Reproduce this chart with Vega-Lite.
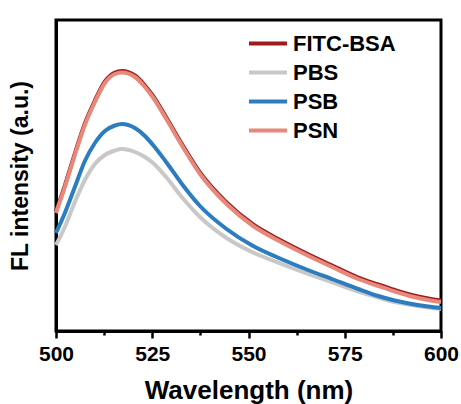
{
  "$schema": "https://vega.github.io/schema/vega-lite/v6.json",
  "width": 385,
  "height": 311,
  "autosize": {"type": "none"},
  "padding": {"left": 56, "top": 20, "right": 20, "bottom": 73},
  "background": "white",
  "config": {
    "font": "Liberation Sans",
    "view": {"stroke": "black", "strokeWidth": 3}
  },
  "data": {
    "values": [
      {"s": "FITC-BSA", "w": 500, "v": 119.5},
      {"s": "FITC-BSA", "w": 502.3, "v": 145.5},
      {"s": "FITC-BSA", "w": 504.9, "v": 177.5},
      {"s": "FITC-BSA", "w": 507.5, "v": 207.5},
      {"s": "FITC-BSA", "w": 510.1, "v": 230.5},
      {"s": "FITC-BSA", "w": 512.7, "v": 249.5},
      {"s": "FITC-BSA", "w": 515.3, "v": 258.5},
      {"s": "FITC-BSA", "w": 517.1, "v": 260},
      {"s": "FITC-BSA", "w": 520.5, "v": 255.5},
      {"s": "FITC-BSA", "w": 523.1, "v": 245.5},
      {"s": "FITC-BSA", "w": 525.2, "v": 235},
      {"s": "FITC-BSA", "w": 528.8, "v": 212.5},
      {"s": "FITC-BSA", "w": 533.1, "v": 184.5},
      {"s": "FITC-BSA", "w": 537.4, "v": 158.5},
      {"s": "FITC-BSA", "w": 544.3, "v": 128.5},
      {"s": "FITC-BSA", "w": 551.2, "v": 106.5},
      {"s": "FITC-BSA", "w": 558.2, "v": 91},
      {"s": "FITC-BSA", "w": 565.1, "v": 77.5},
      {"s": "FITC-BSA", "w": 572.0, "v": 65},
      {"s": "FITC-BSA", "w": 578.5, "v": 53.5},
      {"s": "FITC-BSA", "w": 583.7, "v": 46.5},
      {"s": "FITC-BSA", "w": 588.0, "v": 41},
      {"s": "FITC-BSA", "w": 592.4, "v": 36},
      {"s": "FITC-BSA", "w": 596.7, "v": 32.5},
      {"s": "FITC-BSA", "w": 600, "v": 30.5},

      {"s": "PBS", "w": 500, "v": 86},
      {"s": "PBS", "w": 502.3, "v": 104},
      {"s": "PBS", "w": 504.9, "v": 129},
      {"s": "PBS", "w": 507.5, "v": 151},
      {"s": "PBS", "w": 510.1, "v": 167},
      {"s": "PBS", "w": 512.7, "v": 176},
      {"s": "PBS", "w": 515.3, "v": 180.5},
      {"s": "PBS", "w": 517.1, "v": 182},
      {"s": "PBS", "w": 520.5, "v": 179},
      {"s": "PBS", "w": 523.1, "v": 174},
      {"s": "PBS", "w": 525.2, "v": 168},
      {"s": "PBS", "w": 528.8, "v": 153},
      {"s": "PBS", "w": 533.1, "v": 132},
      {"s": "PBS", "w": 537.4, "v": 114},
      {"s": "PBS", "w": 544.3, "v": 93},
      {"s": "PBS", "w": 551.2, "v": 78.5},
      {"s": "PBS", "w": 558.2, "v": 67.7},
      {"s": "PBS", "w": 565.1, "v": 57.7},
      {"s": "PBS", "w": 572.0, "v": 48.3},
      {"s": "PBS", "w": 578.5, "v": 39.5},
      {"s": "PBS", "w": 583.7, "v": 33.5},
      {"s": "PBS", "w": 588.0, "v": 29},
      {"s": "PBS", "w": 592.4, "v": 26},
      {"s": "PBS", "w": 596.7, "v": 23.5},
      {"s": "PBS", "w": 600, "v": 22},

      {"s": "PSB", "w": 500, "v": 98},
      {"s": "PSB", "w": 502.3, "v": 118},
      {"s": "PSB", "w": 504.9, "v": 144},
      {"s": "PSB", "w": 507.5, "v": 170},
      {"s": "PSB", "w": 510.1, "v": 188},
      {"s": "PSB", "w": 512.7, "v": 200},
      {"s": "PSB", "w": 515.3, "v": 205.5},
      {"s": "PSB", "w": 517.1, "v": 207},
      {"s": "PSB", "w": 520.5, "v": 203},
      {"s": "PSB", "w": 523.1, "v": 195},
      {"s": "PSB", "w": 525.2, "v": 186},
      {"s": "PSB", "w": 528.8, "v": 168},
      {"s": "PSB", "w": 533.1, "v": 145},
      {"s": "PSB", "w": 537.4, "v": 125},
      {"s": "PSB", "w": 544.3, "v": 102},
      {"s": "PSB", "w": 551.2, "v": 85},
      {"s": "PSB", "w": 558.2, "v": 72.5},
      {"s": "PSB", "w": 565.1, "v": 61.5},
      {"s": "PSB", "w": 572.0, "v": 51.5},
      {"s": "PSB", "w": 578.5, "v": 42},
      {"s": "PSB", "w": 583.7, "v": 35},
      {"s": "PSB", "w": 588.0, "v": 30.5},
      {"s": "PSB", "w": 592.4, "v": 27},
      {"s": "PSB", "w": 596.7, "v": 24.5},
      {"s": "PSB", "w": 600, "v": 23},

      {"s": "PSN", "w": 500, "v": 118},
      {"s": "PSN", "w": 502.3, "v": 144},
      {"s": "PSN", "w": 504.9, "v": 176},
      {"s": "PSN", "w": 507.5, "v": 206},
      {"s": "PSN", "w": 510.1, "v": 229},
      {"s": "PSN", "w": 512.7, "v": 248},
      {"s": "PSN", "w": 515.3, "v": 257},
      {"s": "PSN", "w": 517.1, "v": 258.5},
      {"s": "PSN", "w": 520.5, "v": 254},
      {"s": "PSN", "w": 523.1, "v": 244},
      {"s": "PSN", "w": 525.2, "v": 233.5},
      {"s": "PSN", "w": 528.8, "v": 211},
      {"s": "PSN", "w": 533.1, "v": 183},
      {"s": "PSN", "w": 537.4, "v": 157},
      {"s": "PSN", "w": 544.3, "v": 127},
      {"s": "PSN", "w": 551.2, "v": 105},
      {"s": "PSN", "w": 558.2, "v": 89.5},
      {"s": "PSN", "w": 565.1, "v": 76},
      {"s": "PSN", "w": 572.0, "v": 63.5},
      {"s": "PSN", "w": 578.5, "v": 52},
      {"s": "PSN", "w": 583.7, "v": 45},
      {"s": "PSN", "w": 588.0, "v": 39.5},
      {"s": "PSN", "w": 592.4, "v": 34.5},
      {"s": "PSN", "w": 596.7, "v": 31},
      {"s": "PSN", "w": 600, "v": 29}
    ]
  },
  "mark": {"type": "line", "strokeWidth": 4, "interpolate": "monotone"},
  "encoding": {
    "x": {
      "field": "w",
      "type": "quantitative",
      "scale": {"domain": [500, 600], "nice": false, "zero": false},
      "axis": {
        "title": "Wavelength (nm)",
        "titleFontSize": 26,
        "titleFontWeight": "bold",
        "titleColor": "black",
        "titlePadding": 13,
        "values": [500, 512.5, 525, 537.5, 550, 562.5, 575, 587.5, 600],
        "labelExpr": "datum.value % 25 === 0 ? datum.label : ''",
        "labelFontSize": 21,
        "labelFontWeight": "bold",
        "labelColor": "black",
        "labelPadding": 5,
        "labelFlush": false,
        "labelOverlap": false,
        "tickColor": "black",
        "tickWidth": 2.5,
        "tickSize": {"condition": {"test": "datum.value % 25 === 0", "value": 7}, "value": 4},
        "domainColor": "black",
        "domainWidth": 3,
        "grid": false
      }
    },
    "y": {
      "field": "v",
      "type": "quantitative",
      "scale": {"domain": [0, 311], "nice": false, "zero": false},
      "axis": {
        "title": "FL intensity (a.u.)",
        "titleFontSize": 23,
        "titleFontWeight": "bold",
        "titleColor": "black",
        "titlePadding": 24,
        "labels": false,
        "ticks": false,
        "grid": false,
        "domainColor": "black",
        "domainWidth": 3
      }
    },
    "color": {
      "field": "s",
      "type": "nominal",
      "scale": {
        "domain": ["FITC-BSA", "PBS", "PSB", "PSN"],
        "range": ["#9E1B1E", "#C8C8C8", "#2B7DBF", "#E6897B"]
      },
      "legend": {
        "title": null,
        "orient": "none",
        "legendX": 191,
        "legendY": 12,
        "padding": 0,
        "symbolType": "M-1,0H3",
        "symbolSize": 361,
        "symbolStrokeWidth": 4,
        "symbolFillColor": "transparent",
        "labelFontSize": 22,
        "labelFontWeight": "bold",
        "labelColor": "black",
        "labelOffset": 23,
        "labelLimit": 300,
        "rowPadding": 6
      }
    }
  }
}
